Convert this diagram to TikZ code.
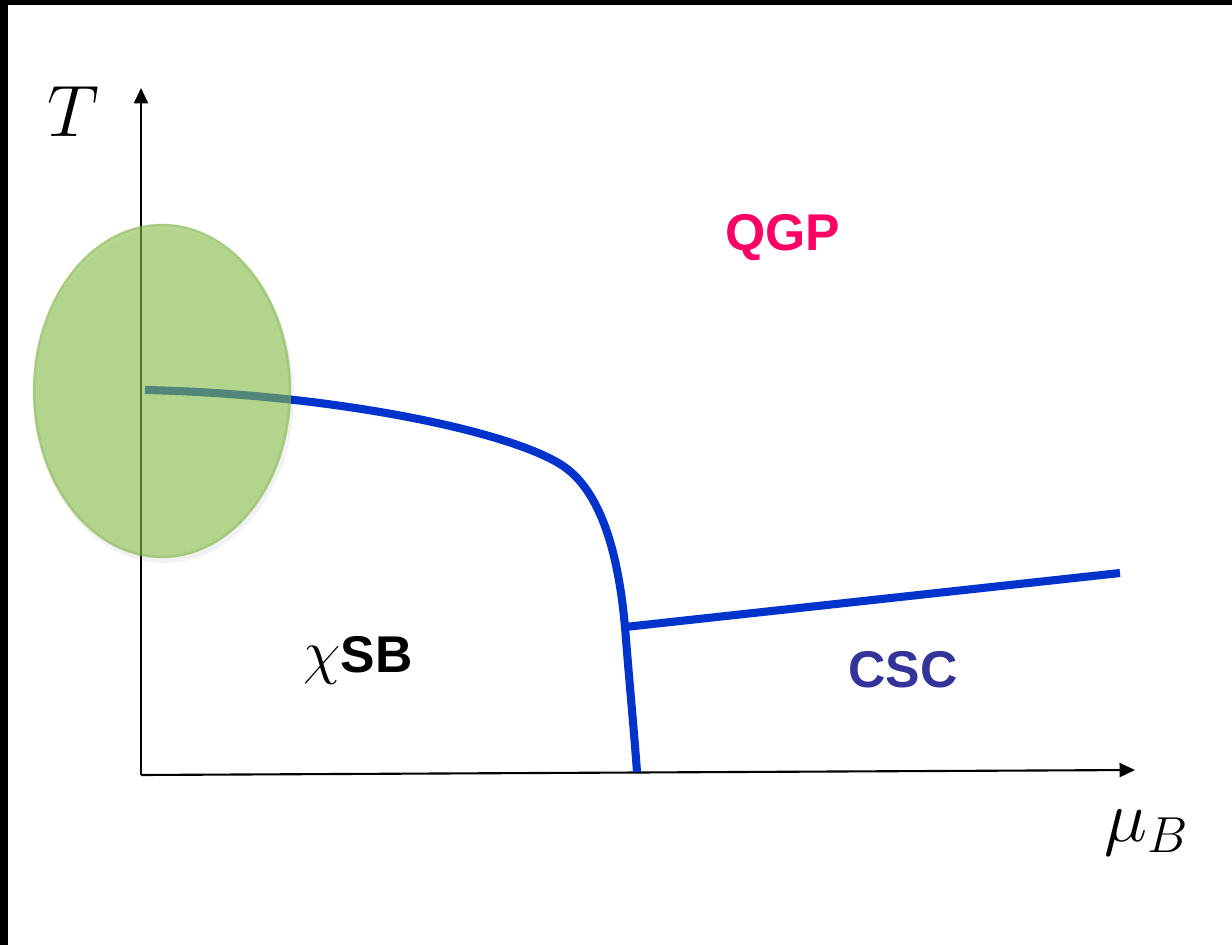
\documentclass[tikz,border=0pt]{standalone}
\usepackage{fontspec}
\usepackage{amsmath}
\usetikzlibrary{arrows.meta}
\newfontfamily\phasefont{Liberation Sans}

\definecolor{linecol}{RGB}{0,51,204}
\definecolor{qgpcol}{RGB}{255,0,102}
\definecolor{csccol}{RGB}{51,51,153}
\definecolor{blobcol}{RGB}{135,192,72}

\tikzset{
  axis/.style={line width=0.6pt, -{Triangle[length=4.4pt, width=4pt]}},
  transition/.style={linecol, line width=2.3pt},
  phase/.style={font=\fontsize{14.7}{17}\selectfont\phasefont\bfseries},
  axislabel/.style={font=\fontsize{19.6}{22}\selectfont}
}

\begin{document}
\begin{tikzpicture}[x=0.01cm, y=-0.01cm]

  \useasboundingbox (0,0) rectangle (1232,945);

  % frame edges
  \fill[black] (0,0) rectangle (1232,5);
  \fill[black] (0,0) rectangle (8,945);

  % axes
  \coordinate (origin) at (141,775);
  \coordinate (ytip) at (141,88);
  \coordinate (xtip) at (1135,770);
  \draw[axis] (origin) -- (ytip);
  \draw[axis] (origin) -- (xtip);
  \node[axislabel] (tlabel) at (73,112) {$T$};
  \node[axislabel] (mulabel) at (1147,833) {$\mu_B$};

  % phase boundaries: the crossover bends down into the first order line,
  % the colour superconductor branches off to the right
  \coordinate (start) at (145,390);
  \coordinate (kink) at (625,627);
  \coordinate (bottom) at (637,772);
  \coordinate (cscend) at (1120,573);
  \draw[transition] (start) .. controls (330,394) and (505,430) .. (560,464)
    .. controls (603,490) and (619,560) .. (kink)
    .. controls (630,690) and (634,730) .. (bottom);
  \draw[transition] (kink) -- (cscend);

  % phase names
  \node[phase, qgpcol] (qgp) at (783,238) {QGP};
  \node[phase, black] (csb) at (358,660) {{\fontsize{19}{19}\selectfont$\chi$}SB};
  \node[phase, csccol] (csc) at (903,670) {CSC};

  % the region covered by lattice / heavy ion data
  \fill[black, opacity=0.05] (164,396) ellipse (130 and 167);
  \fill[blobcol, opacity=0.6] (162,391) ellipse (129 and 167);
  \draw[blobcol!80!black, opacity=0.2, line width=0.8pt] (162,391) ellipse (128 and 166);

\end{tikzpicture}
\end{document}
